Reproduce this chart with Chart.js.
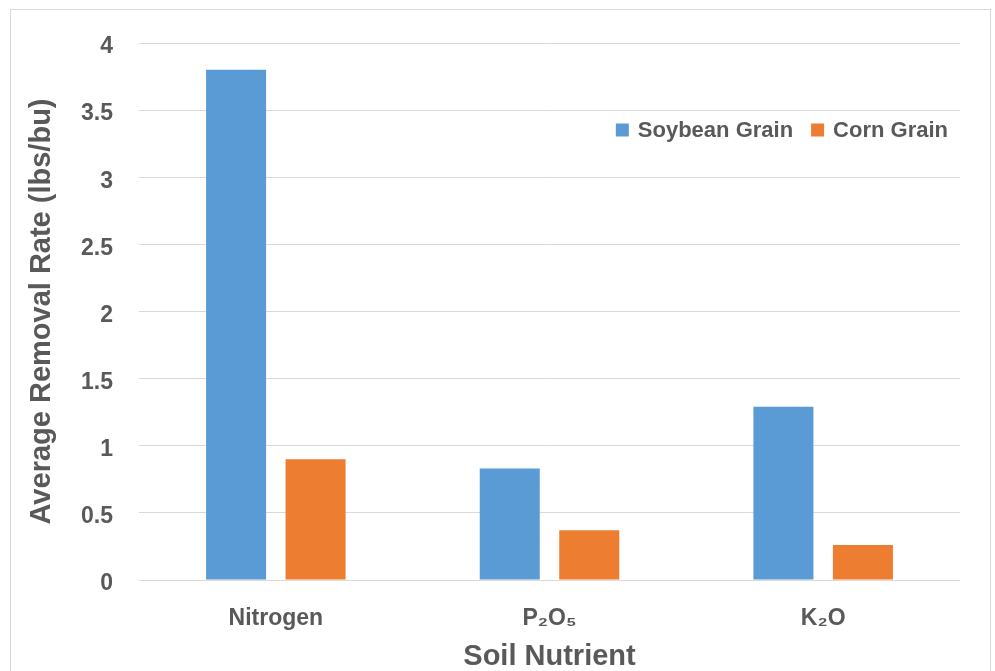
<!DOCTYPE html>
<html>
<head>
<meta charset="utf-8">
<script src="https://cdn.jsdelivr.net/npm/chart.js@4/dist/chart.umd.min.js"></script>
<style>
  html, body { margin: 0; padding: 0; background: #ffffff; }
  #wrap { width: 995px; height: 671px; }
</style>
</head>
<body>
<div id="wrap"><canvas id="chart" width="995" height="671"></canvas></div>
<script>
// Nutrient removal per bushel of harvested grain
const nutrients = ['Nitrogen', 'P\u2082O\u2085', 'K\u2082O'];
const soybeanGrain = [3.80, 0.83, 1.29];
const cornGrain = [0.90, 0.37, 0.26];
const yTickValues = [0, 0.5, 1, 1.5, 2, 2.5, 3, 3.5, 4];

const FONT = '"Liberation Sans Narrow", "Arial Narrow", "Liberation Sans", Arial, sans-serif';
const TEXT = '#595959';
const GRID = '#d9d9d9';

Chart.defaults.font.family = FONT;
Chart.defaults.font.weight = 'bold';
Chart.defaults.color = TEXT;

// Outer frame around the whole figure
const framePlugin = {
  id: 'frame',
  beforeDraw(chart) {
    const ctx = chart.ctx;
    ctx.save();
    ctx.fillStyle = '#ffffff';
    ctx.fillRect(0, 0, chart.width, chart.height);
    ctx.strokeStyle = GRID;
    ctx.lineWidth = 1;
    ctx.strokeRect(10.5, 9.5, 980, 700);
    ctx.restore();
  }
};

// Legend drawn inside the plot area, top right
const insideLegend = {
  id: 'insideLegend',
  afterDraw(chart) {
    const ctx = chart.ctx;
    const area = chart.chartArea;
    const size = 22;
    const box = 13;
    const boxGap = 9;
    const itemGap = 18;
    ctx.save();
    ctx.font = 'bold ' + size + 'px ' + FONT;
    ctx.textBaseline = 'middle';
    ctx.textAlign = 'left';
    const items = chart.data.datasets.map(ds => ({
      label: ds.label, color: ds.backgroundColor, w: ctx.measureText(ds.label).width
    }));
    let total = 0;
    items.forEach((it, i) => { total += box + boxGap + it.w + (i ? itemGap : 0); });
    let x = area.right - 12 - total;
    const y = 131;
    items.forEach(it => {
      ctx.fillStyle = it.color;
      ctx.fillRect(x, y - box / 2 - 1, box, box);
      x += box + boxGap;
      ctx.fillStyle = TEXT;
      ctx.fillText(it.label, x, y);
      x += it.w + itemGap;
    });
    ctx.restore();
  }
};

new Chart(document.getElementById('chart'), {
  type: 'bar',
  data: {
    labels: nutrients,
    datasets: [
      { label: 'Soybean Grain', data: soybeanGrain, backgroundColor: '#5b9bd5',
        categoryPercentage: 0.581, barPercentage: 0.755 },
      { label: 'Corn Grain', data: cornGrain, backgroundColor: '#ed7d31',
        categoryPercentage: 0.581, barPercentage: 0.755 }
    ]
  },
  options: {
    responsive: false,
    animation: false,
    layout: { padding: { left: 0, right: 35, top: 43, bottom: 0 } },
    plugins: {
      legend: { display: false },
      tooltip: { enabled: false }
    },
    scales: {
      x: {
        grid: { display: false },
        border: { display: false },
        ticks: { color: TEXT, padding: 17, font: { size: 23, weight: 'bold' } },
        title: {
          display: true, text: 'Soil Nutrient', color: TEXT,
          font: { size: 29, weight: 'bold', lineHeight: 1.0 },
          padding: { top: 0, bottom: 0 }
        },
        afterFit(scale) { scale.height = 91; }
      },
      y: {
        min: 0, max: 4,
        grid: { color: GRID, lineWidth: 1, drawTicks: false },
        border: { display: false },
        afterBuildTicks(scale) { scale.ticks = yTickValues.map(v => ({ value: v })); },
        ticks: {
          color: TEXT, padding: 26, labelOffset: 4, font: { size: 23, weight: 'bold' },
          callback: v => String(v)
        },
        title: {
          display: true, text: 'Average Removal Rate (lbs/bu)', color: TEXT,
          font: { size: 29, weight: 'bold', lineHeight: 1.2 },
          padding: { top: 25, bottom: 0 }
        },
        afterFit(scale) { scale.width = 139; }
      }
    }
  },
  plugins: [framePlugin, insideLegend]
});
</script>
</body>
</html>
